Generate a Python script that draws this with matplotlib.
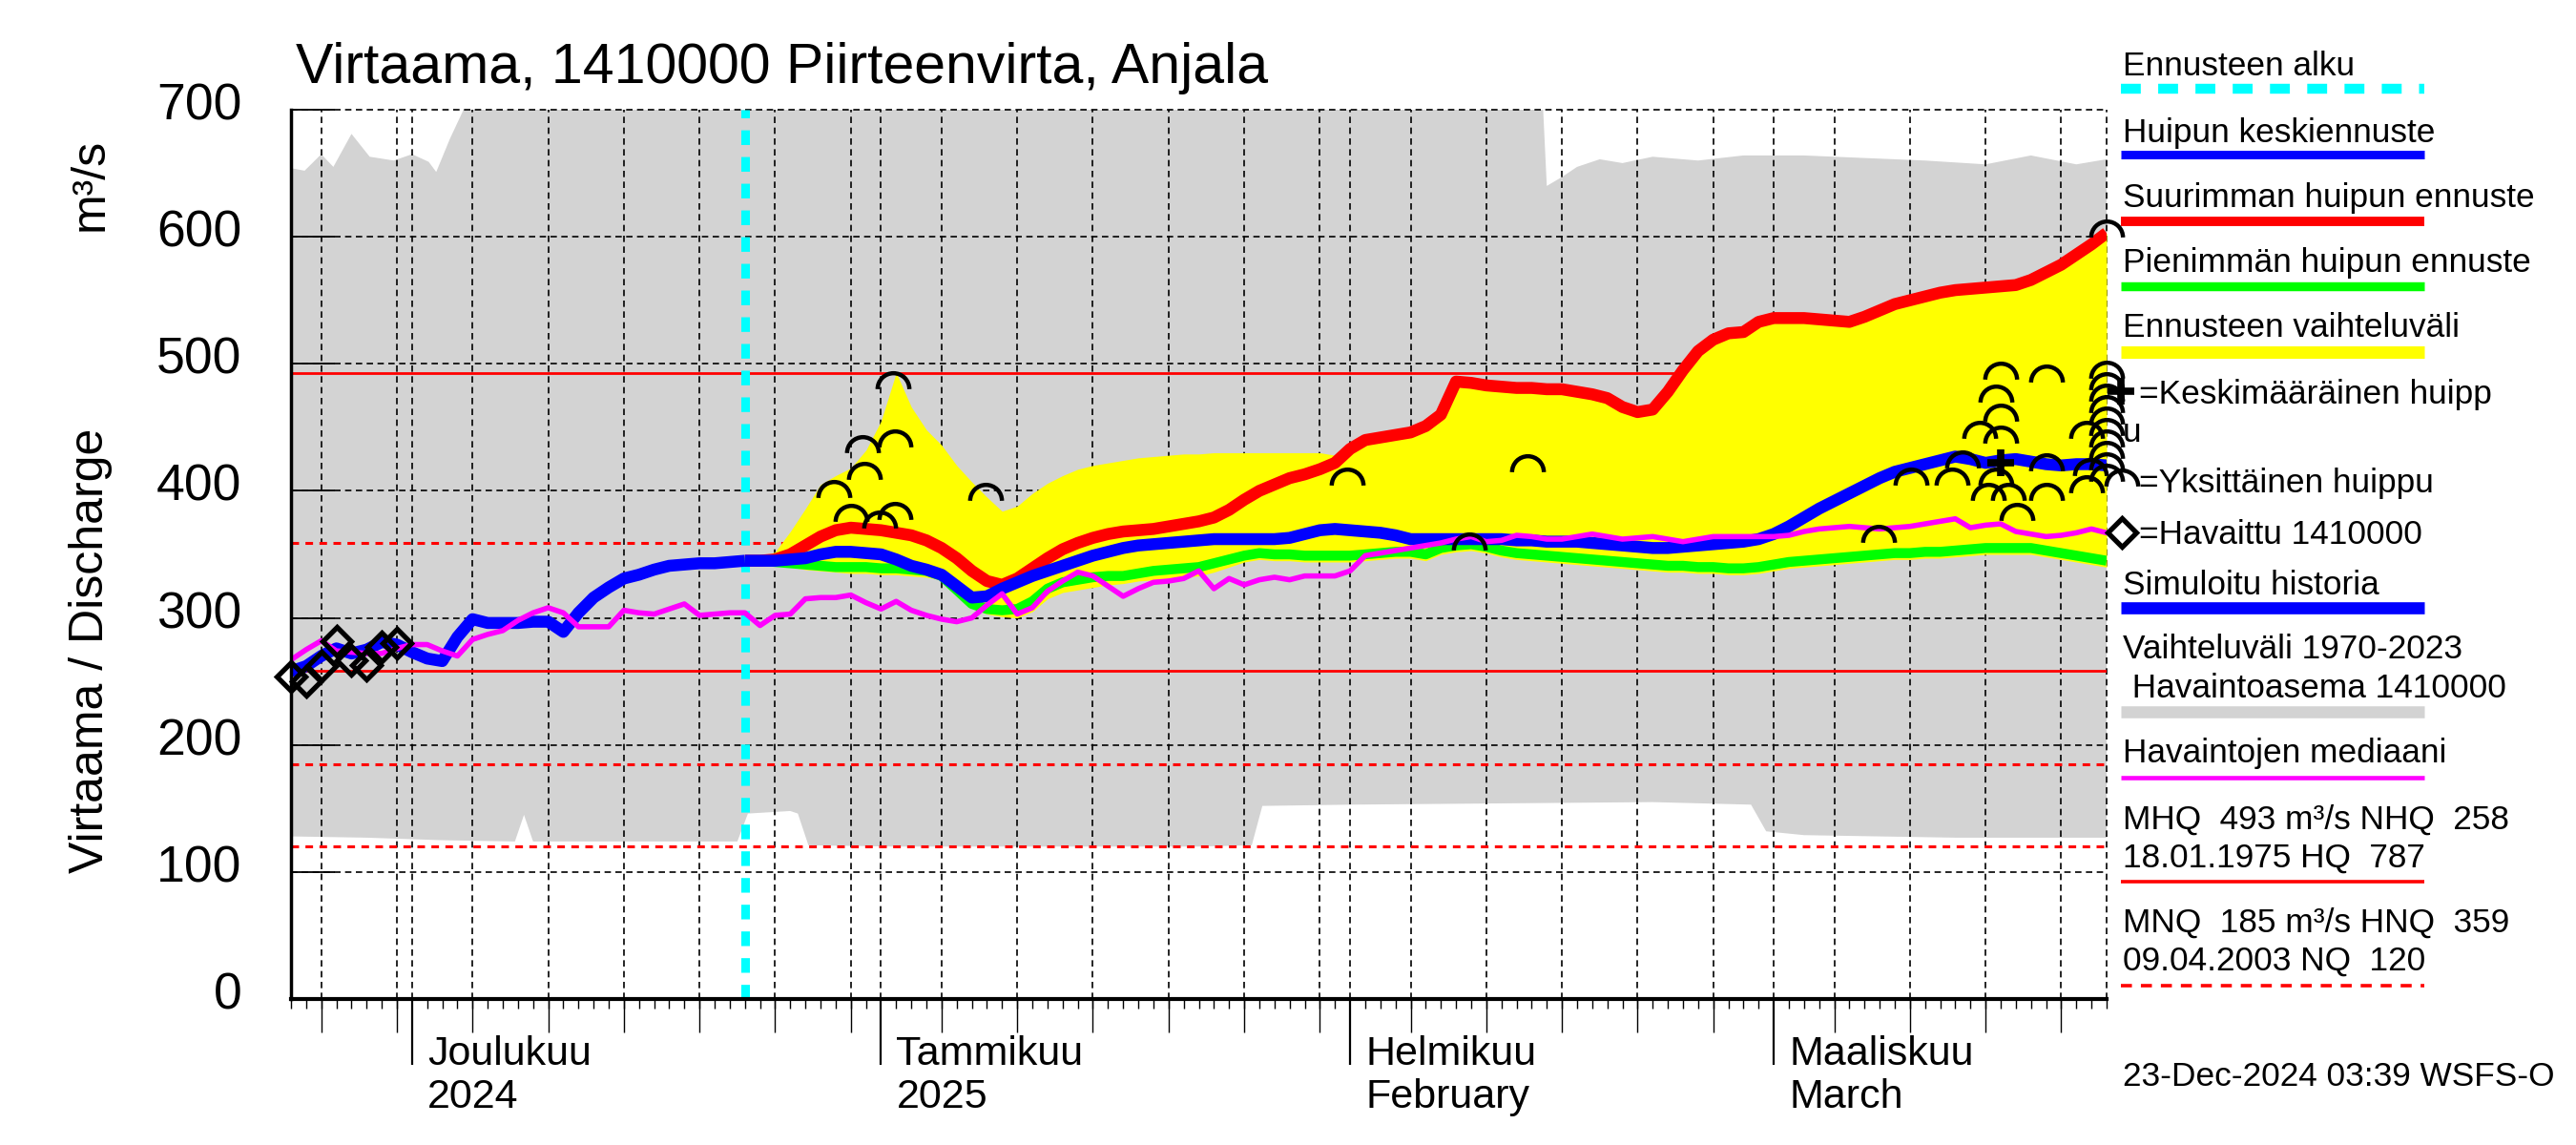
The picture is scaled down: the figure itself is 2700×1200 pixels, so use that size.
import numpy as np
import pandas as pd
import matplotlib
matplotlib.use("Agg")
import matplotlib.pyplot as plt
from matplotlib.path import Path
from matplotlib.lines import Line2D
from matplotlib.transforms import ScaledTranslation

plt.rcParams['font.family'] = ['Liberation Sans', 'DejaVu Sans']

# ---------------- data ----------------
start_date = "2024-11-23"          # day 0
end_day = 120                       # 2025-03-23
forecast_start_day = 30             # 2024-12-23

title = "Virtaama, 1410000 Piirteenvirta, Anjala"
ylabel_main = "Virtaama / Discharge"
ylabel_unit = "m³/s"
yticks = [0, 100, 200, 300, 400, 500, 600, 700]

month_days = [8, 39, 70, 98]
month_top = ["Joulukuu", "Tammikuu", "Helmikuu", "Maaliskuu"]
month_bottom = ["2024", "2025", "February", "March"]

# historical range 1970-2023 (grey band)
hist_hi_days = [0, 0.9, 2, 2.8, 4, 5.2, 6.8, 8, 9.1, 9.6, 10.5, 11.6, 20, 40, 60, 82.6,
                83.0, 84, 85, 86.5, 88, 90, 93, 96, 100, 104, 108, 112, 115, 118, 120]
hist_hi = [654, 652, 665, 655, 681, 663, 660, 665, 659, 651, 677, 705, 745, 760, 750, 740,
           640, 647, 655, 661, 658, 663, 660, 664, 664, 662, 660, 657, 664, 657, 661]
hist_lo_days = [0, 5, 10, 14.8, 15.4, 16.0, 20, 25, 29.5, 30.2, 33, 33.5, 34.2, 40, 50, 60,
                63.5, 64.2, 70, 80, 90, 96.5, 97.5, 100, 110, 120]
hist_lo = [128, 127, 125, 124, 145, 124, 124, 124, 124, 146, 148, 146, 121, 120, 120, 120,
           121, 152, 153, 154, 155, 153, 132, 129, 127, 127]

# observed discharge
obs_days = [0, 1, 2, 3, 4, 5, 6, 7]
obs_vals = [254, 250, 262, 282, 267, 263, 277, 280]

# simulated history (day 0..30)
sim_vals = [258, 262, 270, 276, 272, 275, 281, 279, 273, 268,
            266, 285, 299, 296, 296, 296, 297, 297, 289, 304,
            316, 324, 331, 334, 338, 341, 342, 343, 343, 344,
            345]

# forecasts (day 30..120)
fc_mean = [345, 345, 345, 346, 347, 350, 352, 352, 351, 350,
           346, 341, 338, 334, 325, 316, 317, 323, 328, 333,
           337, 341, 345, 349, 352, 355, 357, 358, 359, 360,
           361, 362, 362, 362, 362, 362, 363, 366, 369, 370,
           369, 368, 367, 365, 362, 362, 362, 362, 362, 362,
           362, 361, 361, 360, 360, 360, 359, 358, 357, 356,
           355, 355, 356, 357, 358, 359, 360, 362, 366, 372,
           379, 386, 392, 398, 404, 410, 415, 418, 421, 424,
           427, 425, 422, 424, 425, 423, 421, 420, 421, 421,
           420]
fc_max = [345, 345, 346, 350, 357, 364, 369, 371, 370, 369,
          367, 365, 361, 355, 347, 337, 329, 326, 331, 339,
          347, 354, 359, 363, 366, 368, 369, 370, 372, 374,
          376, 379, 385, 393, 400, 405, 410, 413, 417, 422,
          433, 440, 442, 444, 446, 451, 460, 486, 485, 483,
          482, 481, 481, 480, 480, 478, 476, 473, 466, 462,
          464, 478, 495, 510, 519, 524, 525, 533, 536, 536,
          536, 535, 534, 533, 537, 542, 547, 550, 553, 556,
          558, 559, 560, 561, 562, 566, 572, 578, 586, 594,
          603]
fc_min = [345, 345, 344, 343, 342, 341, 340, 340, 340, 339,
          339, 338, 337, 333, 322, 311, 307, 306, 307, 313,
          323, 328, 330, 332, 333, 333, 335, 337, 338, 339,
          340, 343, 346, 349, 351, 350, 350, 349, 349, 349,
          349, 350, 351, 352, 352, 350, 355, 357, 358, 356,
          353, 351, 350, 349, 348, 347, 346, 345, 344, 343,
          342, 341, 341, 340, 340, 339, 339, 340, 342, 344,
          345, 346, 347, 348, 349, 350, 351, 351, 352, 352,
          353, 354, 355, 355, 355, 355, 353, 351, 349, 347,
          345]
fc_hi = [345, 347, 352, 368, 386, 405, 412, 418, 432, 455,
         493, 466, 448, 436, 420, 407, 395, 384, 388, 398,
         406, 412, 417, 420, 422, 424, 426, 427, 428, 429,
         429, 430, 430, 430, 430, 430, 430, 430, 430, 428,
         433, 440, 442, 444, 446, 451, 460, 486, 485, 483,
         482, 481, 481, 480, 480, 478, 476, 473, 466, 462,
         464, 478, 495, 510, 519, 524, 525, 533, 536, 536,
         536, 535, 534, 533, 537, 542, 547, 550, 553, 556,
         558, 559, 560, 561, 562, 566, 572, 578, 586, 594,
         603]
fc_lo = [345, 344, 342, 340, 338, 337, 336, 335, 335, 334,
         334, 333, 332, 330, 318, 308, 303, 301, 300, 305,
         315, 320, 322, 324, 326, 327, 329, 330, 331, 332,
         333, 336, 340, 344, 346, 345, 345, 344, 344, 344,
         344, 345, 346, 347, 347, 345, 350, 352, 353, 351,
         348, 346, 345, 344, 343, 342, 341, 340, 339, 338,
         337, 336, 336, 335, 335, 334, 334, 335, 337, 339,
         340, 341, 342, 343, 344, 345, 346, 346, 347, 347,
         348, 349, 350, 350, 350, 350, 348, 346, 344, 342,
         340]

# median of observations (day 0..120)
median_vals = [267, 275, 282, 274, 273, 272, 272, 276, 279, 279,
               274, 270, 283, 287, 290, 298, 304, 308, 304, 293,
               293, 293, 306, 304, 303, 307, 311, 302, 303, 304,
               304, 294, 302, 303, 315, 316, 316, 318, 312, 307,
               313, 306, 302, 299, 297, 300, 310, 319, 303, 308,
               321, 329, 336, 333, 325, 317, 323, 328, 329, 331,
               337, 323, 331, 326, 330, 332, 330, 333, 333, 333,
               337, 349, 351, 353, 355, 357, 359, 362, 364, 360,
               361, 365, 364, 362, 362, 364, 366, 364, 362, 363,
               364, 362, 360, 362, 364, 364, 364, 364, 364, 365,
               368, 370, 371, 372, 371, 370, 371, 372, 374, 376,
               378, 371, 373, 374, 368, 366, 364, 365, 367, 370,
               367]

# single ensemble peaks
peak_days = [35.9, 37.8, 37.9, 37.0, 38.9, 39.9, 39.9, 39.8, 45.9, 69.8, 77.9, 81.7,
             104.9, 107.1, 109.8, 110.5, 111.6, 112.7, 113.0, 113.0, 113.0, 113.5, 114.1,
             112.2, 112.7, 116.0, 116.0, 116.0, 118.7, 118.9, 118.7,
             120, 120, 120, 120, 120, 120, 120, 120, 120, 120, 120]
peak_vals = [401, 436, 415, 382, 377, 384, 441, 487, 399, 411, 360, 421,
             366, 411, 411, 424, 448, 476, 494, 444, 461, 399, 383,
             399, 411, 492, 422, 399, 448, 418, 405,
             606, 495, 486, 477, 468, 459, 450, 441, 432, 423, 414]
mean_peak_day = [113]
mean_peak_val = [422]

MHQ, NHQ, HNQ, MNQ, NQ = 493, 258, 359, 185, 120

legend_rows = ["Ennusteen alku", "Huipun keskiennuste", "Suurimman huipun ennuste",
               "Pienimmän huipun ennuste", "Ennusteen vaihteluväli"]
stats_text = ["MHQ  493 m³/s NHQ  258", "18.01.1975 HQ  787",
              "MNQ  185 m³/s HNQ  359", "09.04.2003 NQ  120"]
stamp = "23-Dec-2024 03:39 WSFS-O"

# ---------------- figure ----------------
W, H = 2700, 1200
fig = plt.figure(figsize=(27, 12), dpi=100)
fig.patch.set_facecolor('white')
L, R, T, B = 305, 2208, 115, 1047
ax = fig.add_axes([L / W, 1 - B / H, (R - L) / W, (B - T) / H])
ax.set_xlim(0, end_day)
ax.set_ylim(0, 700)

fc_days = np.arange(forecast_start_day, end_day + 1)
sim_days = np.arange(0, forecast_start_day + 1)
all_days = np.arange(0, end_day + 1)

GREY = '#d3d3d3'
# grey band
band_x = np.concatenate([hist_hi_days, hist_lo_days[::-1]])
band_y = np.concatenate([hist_hi, hist_lo[::-1]])
ax.fill(band_x, band_y, color=GREY, lw=0, zorder=1)

# grid
dates = pd.date_range(start_date, periods=end_day + 1, freq='D')
grid_days = [i for i, d in enumerate(dates) if d.day in (1, 5, 10, 15, 20, 25, 30)]
medium_days = [i for i, d in enumerate(dates) if d.day in (5, 10, 15, 20, 25, 30)]
gstyle = dict(color='black', lw=1.2, ls=(0, (4, 2.8)), zorder=2)
for y in yticks[1:]:
    ax.axhline(y, clip_on=False, **gstyle)
for d in grid_days:
    ax.axvline(d, **gstyle)
ax.axvline(end_day, clip_on=False, **gstyle)

# reference lines
for v in (MHQ, NHQ):
    ax.axhline(v, color='red', lw=2.0, zorder=3)
for v in (HNQ, MNQ, NQ):
    ax.axhline(v, color='red', lw=2.2, ls=(0, (2.6, 2.2)), zorder=3)

# forecast range
ax.fill_between(fc_days, fc_lo, fc_hi, color='yellow', lw=0, zorder=4)

# forecast start
ax.axvline(forecast_start_day, color='cyan', lw=6.5, ls=(0, (1.7, 1.4)), zorder=5)

ax.plot(fc_days, fc_min, color='#00ff00', lw=7.5, zorder=6, solid_capstyle='butt')
ax.plot(fc_days, fc_max, color='red', lw=9, zorder=7, solid_capstyle='butt')
ax.plot(fc_days, fc_mean, color='blue', lw=9, zorder=8, solid_capstyle='butt')
ax.plot(sim_days, sim_vals, color='blue', lw=9, zorder=8, solid_capstyle='butt')
ax.plot(all_days, median_vals, color='magenta', lw=4.0, zorder=9)

# arc marker
arc = Path.arc(0, 180)
arc_marker = Path(arc.vertices - np.array([0, 0.5]), arc.codes)
ax.plot(peak_days, peak_vals, ls='none', marker=arc_marker, ms=24, mew=3.2,
        mec='black', mfc='none', zorder=10, clip_on=False)
ax.plot(mean_peak_day, mean_peak_val, ls='none', marker='+', ms=20, mew=5.5,
        mec='black', zorder=11, clip_on=False)
ax.plot(obs_days, obs_vals, ls='none', marker='D', ms=15.5, mew=3.8,
        mec='black', mfc='none', zorder=11, clip_on=False)

# spines / ticks
for s in ('top', 'right'):
    ax.spines[s].set_visible(False)
ax.spines['left'].set_linewidth(2.5)
ax.spines['bottom'].set_linewidth(3)
ax.spines['left'].set_zorder(12)
ax.spines['bottom'].set_zorder(12)
ax.xaxis.set_ticks_position('bottom')
ax.yaxis.set_ticks_position('left')
ax.set_yticks(yticks)
ax.set_yticklabels([str(v) for v in yticks])
ax.tick_params(axis='y', direction='in', length=33, width=1.3, pad=37, labelsize=38.5)
for lab in ax.get_yticklabels():
    lab.set_transform(lab.get_transform() + ScaledTranslation(0, 0.09, fig.dpi_scale_trans))
ax.set_xticks(month_days)
ax.set_xticklabels([])
ax.set_xticks(all_days, minor=True)
ax.tick_params(axis='x', which='major', direction='out', length=50, width=1.6)
ax.tick_params(axis='x', which='minor', direction='out', length=7, width=1.0)
sec = ax.secondary_xaxis('bottom')
sec.set_xticks(medium_days)
sec.set_xticklabels([])
sec.tick_params(axis='x', direction='out', length=25, width=1.0)
sec.spines['bottom'].set_visible(False)

for d, t1, t2 in zip(month_days, month_top, month_bottom):
    ax.annotate(t1, xy=(d, 0), xycoords=('data', 'axes fraction'), xytext=(11.5, -42),
                textcoords='offset points', ha='left', va='center', fontsize=31)
    ax.annotate(t2, xy=(d, 0), xycoords=('data', 'axes fraction'), xytext=(11.5, -74),
                textcoords='offset points', ha='left', va='center', fontsize=31)

def fx(p):
    return p / W

def fy(p):
    return 1 - p / H

fig.text(fx(310), fy(87), title, fontsize=42.5, ha='left', va='baseline')
fig.text(fx(95), fy(682), ylabel_main, rotation=90, fontsize=36, ha='center', va='center')
fig.text(fx(95), fy(193), ylabel_unit, rotation=90, fontsize=36, ha='center', va='center')

# ---------------- legend ----------------
LX0, LX1 = 2223, 2541
FS = 25.4

def ltext(x, y, s):
    fig.text(fx(x), fy(y), s, fontsize=FS, ha='left', va='baseline')

def lline(y, **kw):
    fig.add_artist(Line2D([fx(LX0), fx(LX1)], [fy(y), fy(y)], transform=fig.transFigure,
                          solid_capstyle='butt', dash_capstyle='butt', **kw))

def lmark(x, y, **kw):
    fig.add_artist(Line2D([fx(x)], [fy(y)], transform=fig.transFigure, ls='none', **kw))

ltext(2225, 79, legend_rows[0]);  lline(93, color='cyan', lw=7.5, ls=(0, (2.0, 1.75)))
ltext(2225, 149, legend_rows[1]); lline(162, color='blue', lw=6.5)
ltext(2225, 217, legend_rows[2]); lline(232, color='red', lw=7.1)
ltext(2225, 285, legend_rows[3]); lline(300, color='#00ff00', lw=6.8)
ltext(2225, 353, legend_rows[4]); lline(369, color='yellow', lw=9.4)
lmark(2223, 410, marker='+', ms=20, mew=5.5, mec='black')
ltext(2242, 423, "=Keskimääräinen huipp")
ltext(2225, 463, "u")
lmark(2224, 501, marker=arc_marker, ms=24, mew=3.2, mec='black', mfc='none')
ltext(2242, 516, "=Yksittäinen huippu")
lmark(2224, 558, marker='D', ms=15, mew=3.8, mec='black', mfc='none')
ltext(2242, 570, "=Havaittu 1410000")
ltext(2225, 623, "Simuloitu historia"); lline(637, color='blue', lw=9.1)
ltext(2225, 690, "Vaihteluväli 1970-2023")
ltext(2225, 731, " Havaintoasema 1410000"); lline(746, color=GREY, lw=9)
ltext(2225, 799, "Havaintojen mediaani"); lline(815, color='magenta', lw=3.3)
ltext(2225, 869, stats_text[0])
ltext(2225, 909, stats_text[1]); lline(924, color='red', lw=2.6)
ltext(2225, 977, stats_text[2])
ltext(2225, 1017, stats_text[3]); lline(1033, color='red', lw=2.6, ls=(0, (3.2, 2.6)))
ltext(2225, 1138, stamp)

fig.savefig("out.png", dpi=100, facecolor='white')
